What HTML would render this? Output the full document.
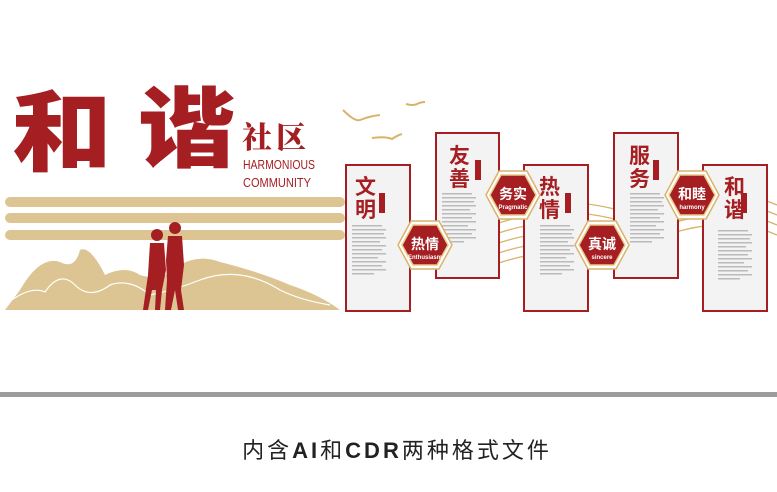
<!DOCTYPE html>
<html><head><meta charset="utf-8"><style>
html,body{margin:0;padding:0;background:#fff;}
body{width:777px;height:492px;overflow:hidden;position:relative;font-family:"Liberation Sans","Noto Sans CJK SC",sans-serif;}
</style></head><body>
<svg width="777" height="492" viewBox="0 0 777 492" xmlns="http://www.w3.org/2000/svg" style="position:absolute;left:0;top:0">
<defs>
<g id="lines">
<rect x="0" y="0" width="30" height="1.5" fill="#bbb"/><rect x="0" y="4" width="34" height="1.5" fill="#bbb"/><rect x="0" y="8" width="32" height="1.5" fill="#bbb"/><rect x="0" y="12" width="34" height="1.5" fill="#bbb"/><rect x="0" y="16" width="28" height="1.5" fill="#bbb"/><rect x="0" y="20" width="34" height="1.5" fill="#bbb"/><rect x="0" y="24" width="30" height="1.5" fill="#bbb"/><rect x="0" y="28" width="34" height="1.5" fill="#bbb"/><rect x="0" y="32" width="26" height="1.5" fill="#bbb"/><rect x="0" y="36" width="34" height="1.5" fill="#bbb"/><rect x="0" y="40" width="30" height="1.5" fill="#bbb"/><rect x="0" y="44" width="34" height="1.5" fill="#bbb"/><rect x="0" y="48" width="22" height="1.5" fill="#bbb"/>
</g>
<g id="hex">
<polygon points="-27,0 -14,-24 14,-24 27,0 14,24 -14,24" fill="#fff" stroke="#d9b36a" stroke-width="1.5"/>
<polygon points="-23,0 -12,-20 12,-20 23,0 12,20 -12,20" fill="#a51e22" stroke="#e8c98a" stroke-width="1.5"/>
</g>
</defs>
<g fill="none" stroke="#d9b36a" stroke-width="1.3">
<path d="M470,225 Q560,180 660,225"/><path d="M470,235 Q560,190 660,235"/><path d="M470,245 Q560,200 660,245"/><path d="M470,255 Q560,210 660,255"/><path d="M470,265 Q560,220 660,265"/><path d="M470,275 Q560,230 660,275"/>
<path d="M640,215 Q720,180 777,205"/><path d="M640,225 Q720,190 777,215"/><path d="M640,235 Q720,200 777,225"/><path d="M640,245 Q720,210 777,235"/>
</g>
<rect x="5" y="197" width="340" height="10" rx="5" fill="#dcc592"/>
<rect x="5" y="213" width="340" height="10" rx="5" fill="#dcc592"/>
<rect x="5" y="230" width="340" height="10" rx="5" fill="#dcc592"/>
<path d="M5,310 L20,290 Q40,255 60,262 Q75,270 80,250 Q90,245 105,275 Q125,265 140,275 L160,280 Q190,250 220,262 Q260,272 290,285 Q320,295 340,310 Z" fill="#dcc592"/>
<path d="M5,305 Q30,285 45,292 Q60,270 75,285 Q90,300 110,285 Q130,278 150,295 Q175,290 200,280 Q240,265 280,290 Q300,300 330,305" fill="none" stroke="#fff" stroke-width="1.2"/>
<g fill="#a51e22">
<circle cx="157" cy="235" r="6"/><path d="M150,243 L164,243 L166,270 L162,290 L160,310 L155,310 L156,290 L152,290 L148,310 L143,310 L148,275 Z"/>
<circle cx="175" cy="228" r="6"/><path d="M168,236 L182,236 L184,265 L181,290 L184,310 L178,310 L175,290 L171,310 L165,310 L167,280 L166,260 Z"/>
</g>
<g fill="none" stroke="#d9b36a" stroke-width="2">
<path d="M343,110 Q355,122 360,120 Q370,116 380,115"/>
<path d="M372,138 Q385,136 392,139 Q398,135 402,134"/>
<path d="M406,104 Q413,106 417,104 Q421,102 425,102"/>
</g>
<text x="12" y="164" font-family="Noto Sans CJK SC,sans-serif" font-weight="900" font-size="88" fill="#a51e22" textLength="100" lengthAdjust="spacingAndGlyphs">和</text>
<text x="138" y="160" font-family="Noto Sans CJK SC,sans-serif" font-weight="900" font-size="88" fill="#a51e22" textLength="98" lengthAdjust="spacingAndGlyphs">谐</text>
<text x="242" y="148" font-family="Noto Serif CJK SC,serif" font-weight="900" font-size="30" fill="#a51e22" letter-spacing="4">社区</text>
<text x="243" y="169" font-size="13" fill="#a51e22" textLength="72" lengthAdjust="spacingAndGlyphs">HARMONIOUS</text>
<text x="243" y="187" font-size="13" fill="#a51e22" textLength="68" lengthAdjust="spacingAndGlyphs">COMMUNITY</text>
<g>
<rect x="346" y="165" width="64" height="146" fill="#f3f3f3" stroke="#a51e22" stroke-width="2"/>
<rect x="436" y="133" width="63" height="145" fill="#f3f3f3" stroke="#a51e22" stroke-width="2"/>
<rect x="524" y="165" width="64" height="146" fill="#f3f3f3" stroke="#a51e22" stroke-width="2"/>
<rect x="614" y="133" width="64" height="145" fill="#f3f3f3" stroke="#a51e22" stroke-width="2"/>
<rect x="703" y="165" width="64" height="146" fill="#f3f3f3" stroke="#a51e22" stroke-width="2"/>
</g>
<g font-weight="bold" font-size="21" fill="#a51e22">
<text x="355" y="194">文</text><text x="355" y="217">明</text>
<text x="449" y="163">友</text><text x="449" y="186">善</text>
<text x="539" y="194">热</text><text x="539" y="217">情</text>
<text x="629" y="163">服</text><text x="629" y="186">务</text>
<text x="724" y="194">和</text><text x="724" y="217">谐</text>
</g>
<g fill="#a51e22">
<rect x="379" y="193" width="6" height="20"/><rect x="475" y="160" width="6" height="20"/><rect x="565" y="193" width="6" height="20"/><rect x="653" y="160" width="6" height="20"/><rect x="741" y="193" width="6" height="20"/>
</g>
<use href="#lines" x="352" y="225"/><use href="#lines" x="442" y="193"/><use href="#lines" x="540" y="225"/><use href="#lines" x="630" y="193"/><use href="#lines" x="718" y="230"/>
<use href="#hex" x="425" y="245"/><use href="#hex" x="513" y="195"/><use href="#hex" x="602" y="245"/><use href="#hex" x="692" y="195"/>
<g fill="#fff" font-weight="bold" text-anchor="middle">
<text x="425" y="249" font-size="14">热情</text><text x="425" y="259" font-size="6">Enthusiasm</text>
<text x="513" y="199" font-size="14">务实</text><text x="513" y="209" font-size="6">Pragmatic</text>
<text x="602" y="249" font-size="14">真诚</text><text x="602" y="259" font-size="6">sincere</text>
<text x="692" y="199" font-size="14">和睦</text><text x="692" y="209" font-size="6">harmony</text>
</g>
<rect x="0" y="392" width="777" height="5" fill="#9c9c9c"/>
<text x="397" y="458" text-anchor="middle" font-size="22" fill="#222" letter-spacing="3">内含<tspan font-weight="bold">AI</tspan>和<tspan font-weight="bold">CDR</tspan>两种格式文件</text>
</svg>
</body></html>
